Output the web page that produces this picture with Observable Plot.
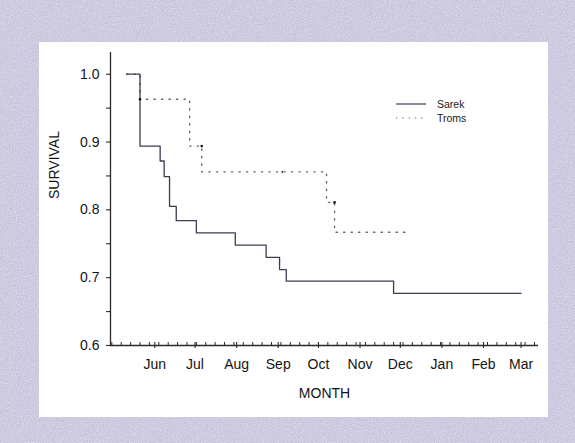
<!DOCTYPE html>
<html>
<head>
<meta charset="utf-8">
<script src="https://cdn.jsdelivr.net/npm/d3@7"></script>
<script src="https://cdn.jsdelivr.net/npm/@observablehq/plot@0.6"></script>
<style>
  html, body { margin: 0; padding: 0; }
  body { width: 575px; height: 443px; position: relative; overflow: hidden;
         background-color: #c8c4dc;
         font-family: "Liberation Sans", Arial, sans-serif; }
  #noise { position: absolute; left: 0; top: 0; }
  #panel { position: absolute; left: 39px; top: 42px; width: 509px; height: 375px; background: #fff; }
  #chart { position: absolute; left: 0; top: 0; }
  #legend { position: absolute; left: 396px; top: 97px; font-size: 10.5px; color: #1a1a1a; }
  #legend .row { height: 14px; display: flex; align-items: center; }
  #legend svg { margin-right: 11px; }
</style>
</head>
<body>
<svg id="noise" width="575" height="443">
  <filter id="f" x="0" y="0" width="100%" height="100%">
    <feTurbulence type="fractalNoise" baseFrequency="0.85" numOctaves="2" seed="3"/>
    <feColorMatrix type="matrix" values="0 0 0 0 0.95  0 0 0 0 0.93  0 0 0 0 0.99  0 0 0 1.6 -0.6"/>
  </filter>
  <filter id="g" x="0" y="0" width="100%" height="100%">
    <feTurbulence type="fractalNoise" baseFrequency="0.8" numOctaves="2" seed="11"/>
    <feColorMatrix type="matrix" values="0 0 0 0 0.55  0 0 0 0 0.52  0 0 0 0 0.7  0 0 0 1.6 -0.65"/>
  </filter>
  <rect width="575" height="443" filter="url(#f)" opacity="0.7"/>
  <rect width="575" height="443" filter="url(#g)" opacity="0.5"/>
</svg>
<div id="panel"></div>
<div id="chart"></div>
<div id="legend"></div>
<script>
// Sarek Kaplan-Meier steps
const sarekDates = ["1989-05-11","1989-05-21","1989-06-05","1989-06-08","1989-06-12","1989-06-17","1989-07-02","1989-07-31","1989-08-23","1989-09-02","1989-09-07","1989-11-26","1990-03-01"];
const sarekSurv  = [1.0, 0.894, 0.872, 0.849, 0.805, 0.784, 0.766, 0.748, 0.730, 0.712, 0.695, 0.677, 0.677];
// Troms steps
const tromsDates = ["1989-05-11","1989-05-21","1989-06-27","1989-07-06","1989-10-07","1989-10-13","1989-12-08"];
const tromsSurv  = [1.0, 0.963, 0.894, 0.856, 0.811, 0.767, 0.767];
// censored marks on Troms
const censorDates = ["1989-05-21","1989-07-06","1989-09-04","1989-10-13"];
const censorSurv  = [0.963, 0.894, 0.856, 0.811];
const censorSize  = [1.3, 1.3, 0.9, 1.3];
// axis ticks
const monthTickDates = ["1989-06-01","1989-07-01","1989-08-01","1989-09-01","1989-10-01","1989-11-01","1989-12-01","1990-01-01","1990-02-01","1990-03-01"];
const monthLabels = ["Jun","Jul","Aug","Sep","Oct","Nov","Dec","Jan","Feb","Mar"];
const yTickValues = [0.6, 0.65, 0.7, 0.75, 0.8, 0.85, 0.9, 0.95, 1.0];
const yTickLabels = ["0.6", "", "0.7", "", "0.8", "", "0.9", "", "1.0"];
const seriesNames = ["Sarek", "Troms"];
const xDomain = ["1989-04-29", "1990-03-14"];
const yDomain = [0.6, 1.032];

const P = s => new Date(s + "T00:00:00Z");
const sarek = sarekDates.map((d, i) => ({date: P(d), s: sarekSurv[i]}));
const troms = tromsDates.map((d, i) => ({date: P(d), s: tromsSurv[i]}));
const censor = censorDates.map((d, i) => ({date: P(d), s: censorSurv[i], r: censorSize[i]}));
const months = monthTickDates.map(P);
const x0 = P(xDomain[0]), x1 = P(xDomain[1]);
const weeks = d3.utcWeek.range(x0, x1);

const axisColor = "#2a2a2a";
const sarekColor = "#3d3b52";
const tromsColor = "#666";
const textColor = "#141414";

const chart = Plot.plot({
  width: 575,
  height: 443,
  marginLeft: 110,
  marginRight: 37,
  marginTop: 52,
  marginBottom: 98,
  style: {background: "transparent", fontFamily: "'Liberation Sans', Arial, sans-serif", fontSize: "14px", color: textColor},
  x: {type: "utc", domain: [x0, x1]},
  y: {domain: yDomain},
  r: {type: "identity"},
  marks: [
    Plot.line(troms, {x: "date", y: "s", curve: "step-after", stroke: tromsColor, strokeWidth: 1.4, strokeDasharray: "1.3,6.2"}),
    Plot.line(sarek, {x: "date", y: "s", curve: "step-after", stroke: sarekColor, strokeWidth: 1.3}),
    Plot.dot(censor, {x: "date", y: "s", r: "r", fill: "#111", stroke: null}),
    Plot.ruleX([x0], {stroke: axisColor, strokeWidth: 1.3}),
    Plot.ruleY([yDomain[0]], {stroke: axisColor, strokeWidth: 1.3}),
    Plot.axisY({ticks: yTickValues, tickSize: 4, tickPadding: 7, stroke: axisColor, strokeWidth: 1.1,
      tickFormat: (d, i) => yTickLabels[yTickValues.findIndex(v => Math.abs(v - d) < 1e-9)], fontSize: 14, label: null}),
    Plot.axisX({ticks: weeks, tickSize: 3, dy: -3, tickFormat: () => "", stroke: axisColor, strokeWidth: 1, label: null}),
    Plot.axisX({ticks: months, tickSize: 6, dy: -3, tickFormat: () => "", stroke: axisColor, strokeWidth: 1.1, label: null}),
    Plot.axisX({ticks: months, tickSize: 0, tickPadding: 14, fontSize: 14, label: null,
      tickFormat: d => monthLabels[months.findIndex(m => +m === +d)]}),
    Plot.text(["SURVIVAL"], {frameAnchor: "left", dx: -56, rotate: -90, fontSize: 14, fill: textColor}),
    Plot.text(["MONTH"], {frameAnchor: "bottom", dy: 52, fontSize: 14, fill: textColor})
  ]
});
document.getElementById("chart").appendChild(chart);

// legend
const legend = document.getElementById("legend");
seriesNames.forEach((name, i) => {
  const row = document.createElement("div");
  row.className = "row";
  const dash = i === 0 ? "" : 'stroke-dasharray="1.3,5"';
  const col = i === 0 ? sarekColor : tromsColor;
  row.innerHTML = `<svg width="30" height="6"><line x1="0" y1="3" x2="30" y2="3" stroke="${col}" stroke-width="1.2" ${dash}/></svg><span>${name}</span>`;
  legend.appendChild(row);
});
</script>
</body>
</html>
